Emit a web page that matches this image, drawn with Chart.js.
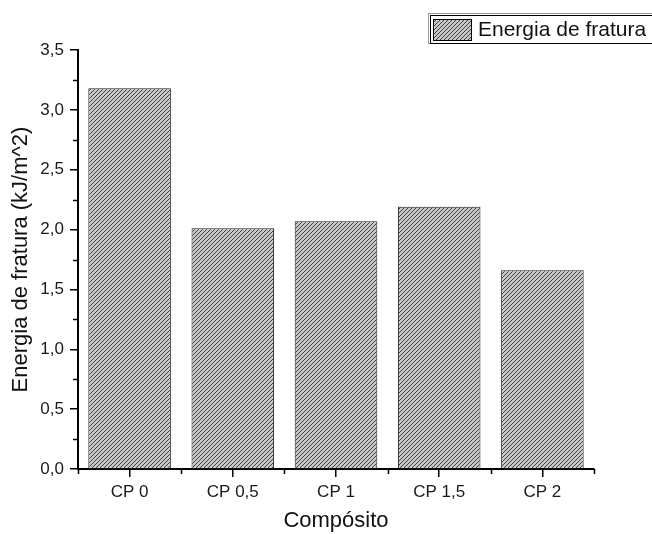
<!DOCTYPE html>
<html>
<head>
<meta charset="utf-8">
<script src="https://cdn.jsdelivr.net/npm/chart.js@4/dist/chart.umd.min.js"></script>
<style>
  html, body { margin: 0; padding: 0; background: #fff; }
  #grafica { display: block; }
</style>
</head>
<body>
<canvas id="grafica" width="652" height="534"></canvas>
<script>
const categorias = ['CP 0', 'CP 0,5', 'CP 1', 'CP 1,5', 'CP 2']; // composições
const energia = [3.18, 2.01, 2.07, 2.19, 1.66]; // energia de fratura (kJ/m^2)
const yMin = 0;
const yMax = 3.5;
const yPasso = 0.5;

// padrão hachurado (cinza com linhas diagonais)
function criarHachura() {
  const c = document.createElement('canvas');
  c.width = 4; c.height = 4;
  const g = c.getContext('2d');
  g.fillStyle = '#c8c8c8';
  g.fillRect(0, 0, 4, 4);
  g.strokeStyle = '#303030';
  g.lineWidth = 0.9;
  g.beginPath();
  g.moveTo(-1, 5); g.lineTo(5, -1);
  g.moveTo(-1, 1); g.lineTo(1, -1);
  g.moveTo(3, 5); g.lineTo(5, 3);
  g.stroke();
  return g.createPattern(c, 'repeat');
}

const ctx = document.getElementById('grafica').getContext('2d');
const hachura = criarHachura();
const fonte = '"Liberation Sans", Arial, sans-serif';

// ticks menores e legenda desenhados à mão
const extras = {
  id: 'extras',
  afterDraw(chart) {
    const c = chart.ctx;
    const y = chart.scales.y;
    const area = chart.chartArea;
    c.save();
    c.strokeStyle = '#000';
    c.lineWidth = 1.5;
    c.beginPath();
    for (let v = yMin + yPasso / 2; v < yMax; v += yPasso) {
      const py = Math.round(y.getPixelForValue(v)) + 0.5;
      c.moveTo(area.left - 5, py); c.lineTo(area.left, py);
    }
    const passo = (area.right - area.left) / categorias.length;
    for (let i = 0; i <= categorias.length; i++) {
      const px = Math.round(area.left + i * passo) + 0.5;
      c.moveTo(px, area.bottom); c.lineTo(px, area.bottom + 5);
    }
    c.stroke();

    // legenda
    const ds = chart.data.datasets[0];
    c.fillStyle = '#fff';
    c.fillRect(429, 14, 260, 30);
    c.strokeStyle = '#999';
    c.lineWidth = 1;
    c.strokeRect(428.5, 13.5, 260, 30);
    c.strokeStyle = '#000';
    c.strokeRect(430.5, 15.5, 260, 28);
    c.fillStyle = ds.backgroundColor;
    c.fillRect(433, 19, 38, 21);
    c.strokeStyle = '#000';
    c.strokeRect(433.5, 19.5, 38, 21);
    c.fillStyle = '#111';
    c.font = '21px ' + fonte;
    c.textBaseline = 'middle';
    c.textAlign = 'left';
    c.fillText(ds.label, 478, 30);
    c.restore();
  }
};

new Chart(ctx, {
  type: 'bar',
  data: {
    labels: categorias,
    datasets: [{
      label: 'Energia de fratura',
      data: energia,
      backgroundColor: hachura,
      borderColor: '#222',
      borderWidth: 1,
      categoryPercentage: 0.8,
      barPercentage: 1.0
    }]
  },
  options: {
    responsive: false,
    animation: false,
    layout: { padding: { left: 0, right: 58, top: 50, bottom: 0 } },
    plugins: {
      legend: { display: false },
      tooltip: { enabled: false }
    },
    scales: {
      x: {
        grid: { offset: false, drawOnChartArea: false, tickLength: 8, color: '#000', lineWidth: 1.5 },
        border: { color: '#000', width: 2 },
        ticks: { color: '#1a1a1a', padding: 5, font: { family: fonte, size: 17 } },
        title: { display: true, text: 'Compósito', color: '#111', padding: { top: 0, bottom: 0 },
                 font: { family: fonte, size: 22 } },
        afterFit(scale) { scale.height = 65; }
      },
      y: {
        min: yMin,
        max: yMax,
        grid: { drawOnChartArea: false, tickLength: 8, color: '#000', lineWidth: 1.5 },
        border: { color: '#000', width: 2 },
        ticks: {
          stepSize: yPasso,
          color: '#1a1a1a',
          padding: 6,
          font: { family: fonte, size: 17 },
          callback: v => v.toFixed(1).replace('.', ',')
        },
        title: { display: true, text: 'Energia de fratura (kJ/m^2)', color: '#111', padding: { top: 8, bottom: 0 },
                 font: { family: fonte, size: 22 } },
        afterFit(scale) { scale.width = 78; }
      }
    }
  },
  plugins: [extras]
});
</script>
</body>
</html>
